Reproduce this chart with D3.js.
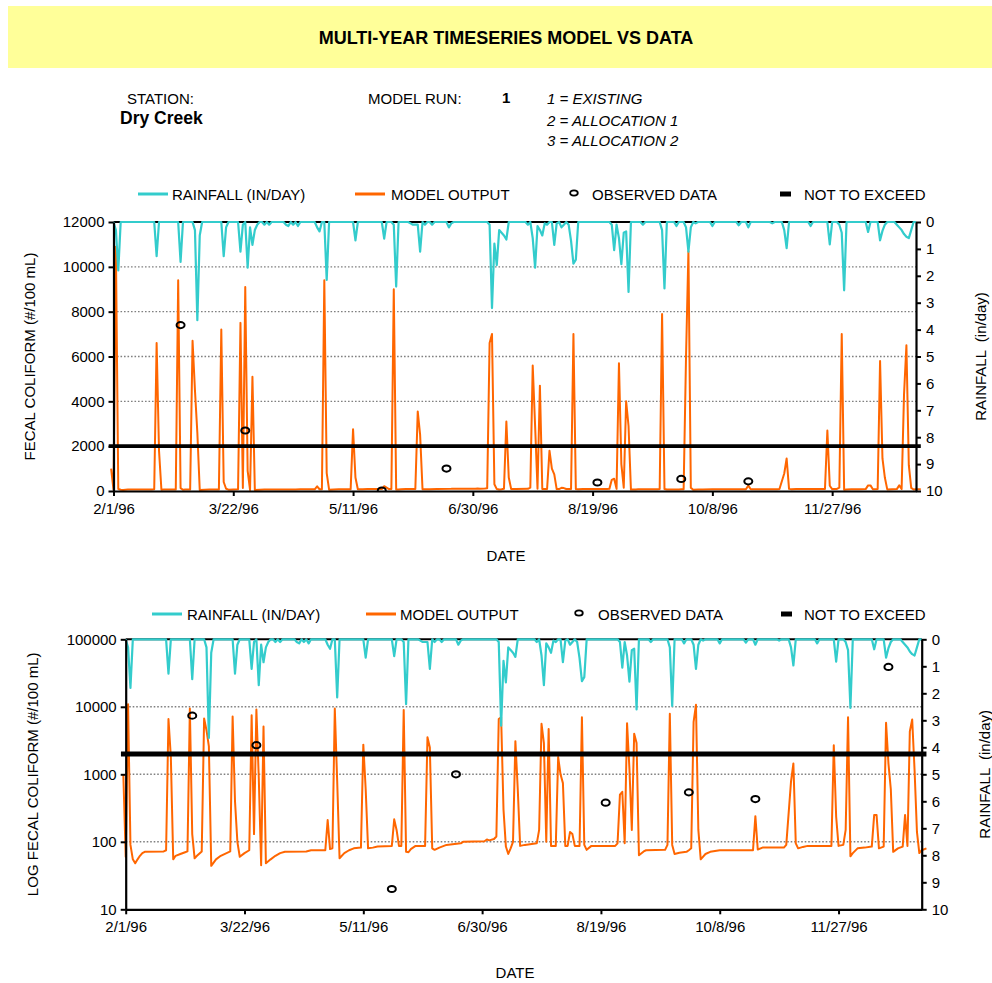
<!DOCTYPE html>
<html><head><meta charset="utf-8">
<script src="https://cdn.jsdelivr.net/npm/d3@7"></script>
<style>
body{margin:0;background:#fff}
svg{display:block}
text{font-family:"Liberation Sans",Arial,Helvetica,sans-serif;fill:#000}
</style>
</head><body>
<svg id="c" width="992" height="983"></svg>
<script>
// ---------------- DATA ----------------
const dateTickLabels = ["2/1/96","3/22/96","5/11/96","6/30/96","8/19/96","10/8/96","11/27/96"];
const linearTicks = [0,2000,4000,6000,8000,10000,12000];
const logTicks = [10,100,1000,10000,100000];
const rainTicks = [0,1,2,3,4,5,6,7,8,9,10];

// rainfall (in/day); days counted from 2/1/96, all other days 0
const rainDays =   [1,2,18,28,34,35,36,46,47,53,54,56,57,58,59,60,63,65,72,73,75,77,85,86,89,101,113,117,118,124,125,126,127,128,130,133,140,141,157,158,159,160,161,162,163,164,173,175,176,177,178,179,180,181,184,185,187,188,190,191,192,193,208,209,210,211,212,213,214,215,221,229,230,235,239,240,241,243,250,261,265,275,280,281,291,299,303,304,305,315,320,321,322,327,328,329,330,331,332,333];
const rainInches = [0.3,1.8,1.27,1.48,0.3,3.65,0.5,1.27,0.2,1.1,0.1,1.7,0.2,0.85,0.3,0.1,0.1,0.1,0.1,0.15,0.1,0.15,0.2,0.35,2.15,0.68,0.62,0.1,2.4,0.05,0.1,0.1,0.1,1.1,0.1,0.1,0.2,0.05,0.1,3.2,0.8,1.6,0.3,0.4,0.5,0.65,0.1,0.6,1.7,0.15,0.3,0.5,0.05,0.1,0.85,0.05,0.2,0.1,0.1,0.7,1.55,1.4,0.1,1.05,0.1,0.6,1.57,0.4,0.35,2.6,0.1,0.3,2.47,0.15,0.2,1.1,0.2,0.05,0.15,0.12,0.2,0.05,0.3,0.97,0.15,0.83,0.1,0.4,2.54,0.37,0.68,0.33,0.1,0.1,0.2,0.3,0.45,0.55,0.6,0.3];

// model output (#/100 mL)
const modelDays =   [-1,0,1,2,3,4,5,6,7,8,16,17,18,19,20,21,23,25,26,27,28,29,30,32,33,34,35,36,38,40,42,44,45,46,47,48,50,52,53,54,55,56,57,58,59,61,63,65,67,76,78,84,85,86,87,88,89,90,92,94,96,99,100,101,102,104,106,112,113,114,115,116,117,118,119,120,122,126,127,128,129,130,132,135,141,142,151,152,153,155,156,157,158,159,160,161,162,163,164,165,166,168,173,174,175,176,177,178,179,181,182,183,184,185,186,187,188,189,191,192,193,194,196,206,207,208,209,210,211,212,213,214,215,216,218,219,227,228,229,230,231,233,236,237,238,239,240,241,242,244,246,250,264,265,266,268,277,278,280,281,282,283,285,287,297,298,299,300,302,303,304,305,306,308,311,314,315,316,317,319,320,321,322,323,325,327,328,329,330,331,332,333,334,335,337];
const modelValues = [1000,60,10900,90,55,48,55,62,68,71,72,75,6600,1800,55,62,66,70,72,9400,130,57,62,72,6700,4500,2600,44,55,62,67,72,7200,400,100,60,68,75,7500,130,9100,900,45,5100,48,55,62,68,71,72,75,75,210,78,80,9400,800,57,68,75,80,82,2750,600,80,82,85,87,215,150,87,87,9000,71,70,78,87,87,3550,2500,80,76,82,90,95,100,102,108,105,110,120,6600,7000,300,85,66,80,100,3100,600,87,90,95,150,5600,2900,100,4700,87,87,1800,1000,740,87,87,140,130,87,87,7000,90,76,87,87,95,500,550,95,5700,1200,150,4000,2900,63,72,75,76,90,7900,90,66,69,71,75,80,6000,10700,150,55,66,71,75,75,240,77,82,82,90,780,1450,95,80,84,87,87,2700,235,87,90,150,7000,61,68,80,82,85,250,250,80,85,5800,1450,600,71,80,85,250,87,4300,6500,1150,140,68,75,80];

// observed data (#/100 mL)
const obsDays =   [28,55,112,139,202,237,265,321];
const obsValues = [7400,2700,20,1000,380,540,430,39000];

// not-to-exceed standard
const nteDays = [-2,337];
const nteValue = 2000;

// ---------------- DRAW ----------------
const svg = d3.select("#c");
const t0 = new Date(1996,1,1), t1 = new Date(1997,0,1);
const parseD = d3.timeParse("%m/%d/%y");
const tickDates = dateTickLabels.map(parseD);
const dayDate = d => new Date(t0.getTime() + d*86400000);
const rainMap = new Map(rainDays.map((d,i)=>[d,rainInches[i]]));
const rainSeries = d3.range(0,336).map(d=>({d, v: rainMap.get(d)||0}));
const modelSeries = modelDays.map((d,i)=>({d, v:modelValues[i]}));
const obsSeries = obsDays.map((d,i)=>({d, v:obsValues[i]}));
const fmtDate = d => `${d.getMonth()+1}/${d.getDate()}/${String(d.getFullYear()).slice(2)}`;

// banner
svg.append("rect").attr("x",8).attr("y",6).attr("width",984).attr("height",62).attr("fill","#FFFF99");
svg.append("text").attr("x",506).attr("y",44).attr("text-anchor","middle")
  .attr("font-size",18).attr("font-weight","bold").text("MULTI-YEAR TIMESERIES MODEL VS DATA");
svg.append("text").attr("x",127).attr("y",104).attr("font-size",15).text("STATION:");
svg.append("text").attr("x",120).attr("y",124).attr("font-size",17.5).attr("font-weight","bold").text("Dry Creek");
svg.append("text").attr("x",368).attr("y",104).attr("font-size",15).text("MODEL RUN:");
svg.append("text").attr("x",502).attr("y",103).attr("font-size",15).attr("font-weight","bold").text("1");
[["1 = EXISTING",104],["2 = ALLOCATION 1",126],["3 = ALLOCATION 2",146]].forEach(([t,y])=>{
  svg.append("text").attr("x",547).attr("y",y).attr("font-size",15).attr("font-style","italic").text(t);
});

function drawChart(cfg){
  const g = svg.append("g");
  const x = d3.scaleTime().domain([t0,t1]).range([cfg.left,cfg.right]);
  const y = cfg.log
    ? d3.scaleLog().domain([10,100000]).range([cfg.bottom,cfg.top])
    : d3.scaleLinear().domain([0,12000]).range([cfg.bottom,cfg.top]);
  const yr = d3.scaleLinear().domain([0,10]).range([cfg.top,cfg.bottom]);
  const clipId = "clip"+cfg.id;
  svg.append("clipPath").attr("id",clipId).append("rect")
    .attr("x",cfg.left-8).attr("y",cfg.top-2).attr("width",cfg.right-cfg.left+14).attr("height",cfg.bottom-cfg.top+3);

  // gridlines
  const yTicks = cfg.log ? logTicks : linearTicks;
  g.selectAll(".grid").data(yTicks.filter(v=>v!==yTicks[0] && v!==yTicks[yTicks.length-1])).enter()
    .append("line").attr("x1",cfg.left).attr("x2",cfg.right)
    .attr("y1",d=>y(d)).attr("y2",d=>y(d))
    .attr("stroke","#808080").attr("stroke-width",1.4).attr("stroke-dasharray","1.6,1.9");

  // top border (under rainfall)
  g.append("line").attr("x1",cfg.left).attr("x2",cfg.right).attr("y1",cfg.top).attr("y2",cfg.top)
    .attr("stroke","#000").attr("stroke-width",2);

  const plot = g.append("g").attr("clip-path",`url(#${clipId})`);
  // model line
  plot.append("path").datum(modelSeries)
    .attr("d", d3.line().x(p=>x(dayDate(p.d))).y(p=>y(Math.max(p.v, cfg.log?10:0))))
    .attr("fill","none").attr("stroke","#FF6600").attr("stroke-width",2).attr("stroke-linejoin","round");
  // rainfall line
  plot.append("path").datum(rainSeries)
    .attr("d", d3.line().x(p=>x(dayDate(p.d))).y(p=>yr(p.v)))
    .attr("fill","none").attr("stroke","#33CCCC").attr("stroke-width",2.2).attr("stroke-linejoin","round");
  // observed
  plot.selectAll(".obs").data(obsSeries.filter(p=>p.v<=y.domain()[1])).enter()
    .append("ellipse").attr("cx",p=>x(dayDate(p.d))).attr("cy",p=>y(p.v))
    .attr("rx",4).attr("ry",3.1).attr("fill","none").attr("stroke","#000").attr("stroke-width",2);
  // NTE
  g.append("line").attr("x1",x(dayDate(nteDays[0]))).attr("x2",x(dayDate(nteDays[1])))
    .attr("y1",y(nteValue)).attr("y2",y(nteValue)).attr("stroke","#000").attr("stroke-width",cfg.nteW);

  // axes
  const fontSize = 15;
  const ax = g.append("g").attr("transform",`translate(0,${cfg.bottom})`)
    .call(d3.axisBottom(x).tickValues(tickDates).tickFormat(fmtDate).tickSize(5).tickSizeOuter(0).tickPadding(7));
  const ay = g.append("g").attr("transform",`translate(${cfg.left},0)`)
    .call(d3.axisLeft(y).tickValues(yTicks).tickFormat(d3.format("d")).tickSize(5).tickSizeOuter(0).tickPadding(4));
  const ar = g.append("g").attr("transform",`translate(${cfg.right},0)`)
    .call(d3.axisRight(yr).tickValues(rainTicks).tickFormat(d3.format("d")).tickSize(5).tickSizeOuter(0).tickPadding(5));
  [ax,ay,ar].forEach(a=>{
    a.selectAll("path.domain").attr("stroke","#000").attr("stroke-width",2.2);
    a.selectAll(".tick line").attr("stroke","#000").attr("stroke-width",2);
    a.selectAll("text").attr("font-size",fontSize).attr("font-family",'"Liberation Sans",Arial,sans-serif').attr("fill","#000");
    a.attr("font-family",null).attr("font-size",null);
  });

  // axis titles
  const midY = (cfg.top+cfg.bottom)/2;
  g.append("text").attr("transform",`translate(${cfg.leftTitleX},${midY}) rotate(-90)`)
    .attr("text-anchor","middle").attr("font-size",15).text(cfg.leftTitle);
  g.append("text").attr("transform",`translate(${cfg.rightTitleX},${midY}) rotate(-90)`)
    .attr("text-anchor","middle").attr("font-size",15).attr("xml:space","preserve").text("RAINFALL  (in/day)");
  g.append("text").attr("x",cfg.dateX).attr("y",cfg.dateY).attr("text-anchor","middle").attr("font-size",15).text("DATE");

  // legend
  const L = cfg.legend, ly = cfg.legendY;
  g.append("line").attr("x1",L[0]).attr("x2",L[0]+30).attr("y1",ly).attr("y2",ly).attr("stroke","#33CCCC").attr("stroke-width",3);
  g.append("text").attr("x",L[1]).attr("y",ly+5.5).attr("font-size",15).text("RAINFALL (IN/DAY)");
  g.append("line").attr("x1",L[2]).attr("x2",L[2]+30).attr("y1",ly).attr("y2",ly).attr("stroke","#FF6600").attr("stroke-width",3);
  g.append("text").attr("x",L[3]).attr("y",ly+5.5).attr("font-size",15).text("MODEL OUTPUT");
  g.append("ellipse").attr("cx",L[4]).attr("cy",ly-1).attr("rx",3.8).attr("ry",2.6).attr("fill","none").attr("stroke","#000").attr("stroke-width",1.8);
  g.append("text").attr("x",L[5]).attr("y",ly+5.5).attr("font-size",15).text("OBSERVED DATA");
  g.append("line").attr("x1",L[6]).attr("x2",L[6]+11).attr("y1",ly).attr("y2",ly).attr("stroke","#000").attr("stroke-width",5);
  g.append("text").attr("x",L[7]).attr("y",ly+5.5).attr("font-size",15).text("NOT TO EXCEED");
}

drawChart({id:1, log:false, left:113.5, right:916, top:222, bottom:491, nteW:3.8,
  leftTitle:"FECAL COLIFORM (#/100 mL)", leftTitleX:35, rightTitleX:986, dateX:506, dateY:561,
  legendY:194, legend:[138,172,355,391,574,592,780,804]});
drawChart({id:2, log:true, left:125.7, right:921.7, top:639.3, bottom:909.3, nteW:5,
  leftTitle:"LOG FECAL COLIFORM (#/100 mL)", leftTitleX:38, rightTitleX:990, dateX:515, dateY:978,
  legendY:614, legend:[152,187,366,400,579,598,781,804]});
</script>
</body></html>
